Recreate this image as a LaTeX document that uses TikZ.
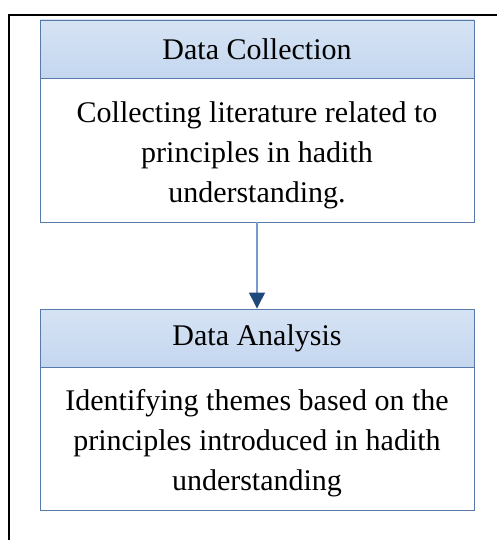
\documentclass[tikz,border=0pt]{standalone}
\usepackage{fontspec}
\setmainfont{Liberation Serif}
\usetikzlibrary{arrows.meta}
\definecolor{HeadTop}{RGB}{214,227,244}
\definecolor{HeadBot}{RGB}{196,215,239}
\definecolor{EdgeBlue}{RGB}{88,122,170}
\definecolor{LineBlue}{RGB}{120,155,205}
\definecolor{TipBlue}{RGB}{31,73,125}
\newcommand{\topgap}{\rule{0pt}{31pt}}
\begin{document}
\begin{tikzpicture}
[
x=1pt, y=1pt,
Frame/.style={draw=black, line width=2.5pt},
Head/.style={rectangle, draw=EdgeBlue, top color=HeadTop, bottom color=HeadBot, line width=0.9pt, minimum width=434pt, minimum height=58pt, inner sep=0pt, font=\fontsize{30}{40}\selectfont},
Body/.style={rectangle, draw=EdgeBlue, fill=white, line width=0.9pt, minimum width=434pt, inner sep=0pt, align=center, font=\fontsize{30}{40}\selectfont},
FlowArrow/.style={draw=LineBlue, line width=1.3pt, -{Triangle[color=TipBlue, width=16pt, length=16pt]}},
]

\useasboundingbox (0,0) rectangle (497,-540);

% outer frame
\draw[Frame] (9,-540)--(9,-15)--(497,-15);

% data collection
\node[Head] (collhead) at (257,-49) {Data Collection};
\node[Body, minimum height=144pt] (collbody) at (257,-150) {\topgap Collecting literature related to\\principles in hadith\\understanding.};

% data analysis
\node[Head] (analhead) at (257,-338) {Data Analysis};
\node[Body, minimum height=143pt] (analbody) at (257,-438.5) {\topgap Identifying themes based on the\\principles introduced in hadith\\understanding};

\draw[FlowArrow] (collbody.south)--(analhead.north);

\end{tikzpicture}
\end{document}
